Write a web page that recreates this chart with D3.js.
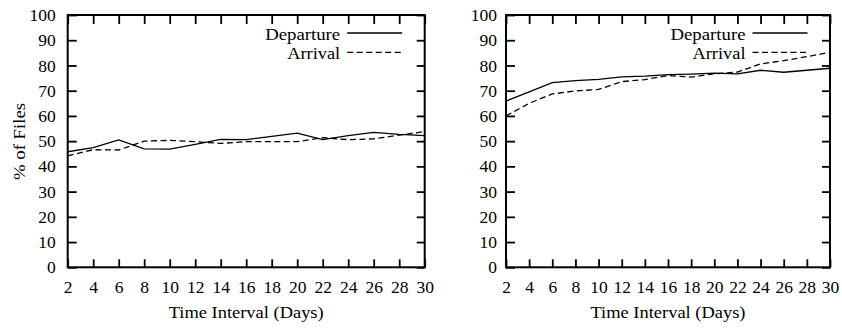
<!DOCTYPE html>
<html><head><meta charset="utf-8">
<script src="https://cdn.jsdelivr.net/npm/d3@7"></script>
<style>
body{margin:0;background:#fff}
svg text{font-family:"Liberation Serif","Times New Roman",Times,serif !important;fill:#000}
</style>
</head><body>
<svg id="c" width="842" height="329"></svg>
<script>
const days = [2,4,6,8,10,12,14,16,18,20,22,24,26,28,30];
const leftDeparture  = [45.8,47.4,50.5,46.9,46.8,48.7,50.7,50.6,51.9,53.2,50.6,52.2,53.5,52.7,52.2];
const leftArrival    = [44.2,46.6,46.5,50.0,50.3,49.8,49.1,49.8,49.8,49.8,51.4,50.6,50.9,52.4,53.8];
const rightDeparture = [65.9,69.5,73.2,74.0,74.5,75.5,75.8,76.4,76.6,77.0,76.7,78.1,77.3,78.1,78.9];
const rightArrival   = [60.0,65.0,68.7,69.9,70.5,73.6,74.4,76.0,75.4,76.7,77.4,80.6,81.9,83.5,85.2];
const yTicks = [0,10,20,30,40,50,60,70,80,90,100];
const xTicks = days;
const seriesNames = ["Departure","Arrival"];
const xTitle = "Time Interval (Days)";
const yTitle = "% of Files";

(function(){
const svg = d3.select("#c");
const plotTop = 15, plotBottom = 267.3;
const FONT = "'Liberation Serif','Times New Roman',Times,serif";
const DASH = "6,3.5";

const panels = [
  {x0:67.7, x1:424.7, dep:leftDeparture, arr:leftArrival, yPad:12, ylabel:true},
  {x0:506, x1:830, dep:rightDeparture, arr:rightArrival, yPad:9, ylabel:false}
];

panels.forEach(p => {
  const x = d3.scaleLinear().domain([2,30]).range([p.x0,p.x1]);
  const y = d3.scaleLinear().domain([0,100]).range([plotBottom,plotTop]);
  const g = svg.append("g");

  const styleAxis = a => {
    a.attr("font-family",FONT).attr("font-size",17.5);
    a.select(".domain").remove();
    a.selectAll(".tick line").attr("stroke","#000").attr("stroke-width",1.8);
  };

  const bx = g.append("g").attr("transform",`translate(0,${plotBottom})`)
    .call(d3.axisBottom(x).tickValues(xTicks).tickSizeInner(-8).tickSizeOuter(0).tickPadding(0));
  styleAxis(bx);
  bx.selectAll(".tick text").attr("y",0).attr("dy",null).attr("transform","translate(0,26)")
    .style("font-family",FONT).style("font-size","17.5px");
  const tx = g.append("g").attr("transform",`translate(0,${plotTop})`)
    .call(d3.axisTop(x).tickValues(xTicks).tickSizeInner(-9).tickSizeOuter(0).tickFormat(""));
  styleAxis(tx);
  const ly = g.append("g").attr("transform",`translate(${p.x0},0)`)
    .call(d3.axisLeft(y).tickValues(yTicks).tickSizeInner(-9).tickSizeOuter(0).tickPadding(p.yPad));
  styleAxis(ly);
  ly.selectAll(".tick text").style("font-family",FONT).style("font-size","17.5px");
  const ry = g.append("g").attr("transform",`translate(${p.x1},0)`)
    .call(d3.axisRight(y).tickValues(yTicks).tickSizeInner(-8).tickSizeOuter(0).tickFormat(""));
  styleAxis(ry);

  g.append("rect").attr("x",p.x0).attr("y",plotTop).attr("width",p.x1-p.x0).attr("height",plotBottom-plotTop)
    .attr("fill","none").attr("stroke","#000").attr("stroke-width",2);

  const line = d3.line().x((d,i)=>x(days[i])).y(d=>y(d));
  g.append("path").datum(p.dep).attr("d",line).attr("fill","none").attr("stroke","#000").attr("stroke-width",1.3);
  g.append("path").datum(p.arr).attr("d",line).attr("fill","none").attr("stroke","#000").attr("stroke-width",1.3)
    .attr("stroke-dasharray",DASH);

  const lx1 = p.x1 - 22.5, lx0 = lx1 - 55, tEnd = lx0 - 7;
  const legend = [
    {name:seriesNames[0], yb:40, yl:33, dash:null, w:75},
    {name:seriesNames[1], yb:59.3, yl:52.3, dash:DASH, w:53}
  ];
  legend.forEach(l => {
    g.append("text").attr("x",tEnd-l.w).attr("y",l.yb).style("font-family",FONT).style("font-size","16.5px")
      .attr("textLength",l.w).attr("lengthAdjust","spacingAndGlyphs").text(l.name);
    g.append("line").attr("x1",lx0).attr("x2",lx1).attr("y1",l.yl).attr("y2",l.yl)
      .attr("stroke","#000").attr("stroke-width",1.3).attr("stroke-dasharray",l.dash);
  });

  const cx = (p.x0+p.x1)/2;
  g.append("text").attr("x",cx-77.5).attr("y",318).style("font-family",FONT).style("font-size","17px")
    .attr("textLength",155).attr("lengthAdjust","spacingAndGlyphs").text(xTitle);

  if (p.ylabel) {
    g.append("text").attr("transform",`translate(25,141.5) rotate(-90)`)
      .attr("x",-38.5).attr("y",0).style("font-family",FONT).style("font-size","17px")
      .attr("textLength",77).attr("lengthAdjust","spacingAndGlyphs").text(yTitle);
  }
});
})();
</script>
</body></html>
